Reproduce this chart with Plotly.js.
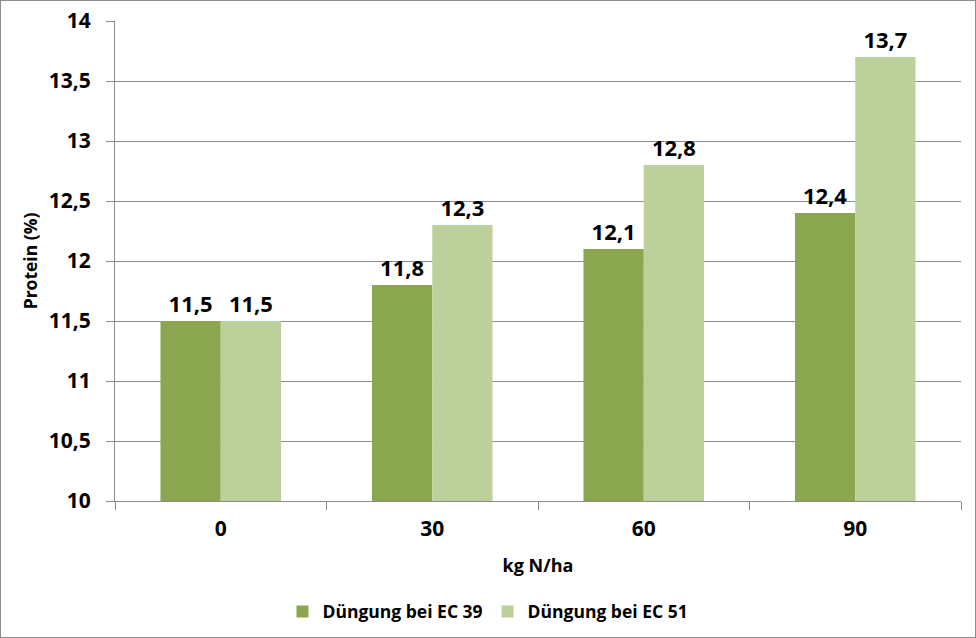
<!DOCTYPE html>
<html>
<head>
<meta charset="utf-8">
<script src="https://cdn.plot.ly/plotly-3.0.1.min.js"></script>
<style>
  html, body { margin: 0; padding: 0; background: #fff; }
  #chart { width: 974px; height: 636px; border: 1px solid #8c8c8c; }
</style>
</head>
<body>
<div id="chart"></div>
<script>
// Nitrogen rate categories (kg N/ha)
const categories = ['0', '30', '60', '90'];
// Protein content (%) per fertilisation timing
const seriesEC39 = [11.5, 11.8, 12.1, 12.4];
const seriesEC51 = [11.5, 12.3, 12.8, 13.7];
const seriesNames = ['Düngung bei EC 39', 'Düngung bei EC 51'];
const yTicks = [10, 10.5, 11, 11.5, 12, 12.5, 13, 13.5, 14];

const fontFamily = '"Open Sans", Lato, sans-serif';
const gridColor = '#8c8c8c';

const labelFont = { family: fontFamily, size: 22, color: '#000', weight: 700 };

const traces = [
  {
    type: 'bar', name: seriesNames[0], x: categories, y: seriesEC39,
    marker: { color: '#8aa74f' },
    texttemplate: '%{y:.1f}', textposition: 'outside',
    textfont: labelFont, cliponaxis: false
  },
  {
    type: 'bar', name: seriesNames[1], x: categories, y: seriesEC51,
    marker: { color: '#bbd09a' },
    texttemplate: '%{y:.1f}', textposition: 'outside',
    textfont: labelFont, cliponaxis: false
  }
];

const layout = {
  width: 974, height: 636,
  margin: { l: 114, r: 14, t: 20, b: 136 },
  paper_bgcolor: '#fff', plot_bgcolor: '#fff',
  separators: ', ',
  barmode: 'group', bargap: 0.43, bargroupgap: 0,
  font: { family: fontFamily, color: '#000', weight: 700 },
  showlegend: true,
  legend: {
    orientation: 'h', xref: 'container', yref: 'container',
    x: 0.5, xanchor: 'center', y: 0.04, yanchor: 'middle',
    font: { family: fontFamily, size: 17.5, color: '#000', weight: 700 },
    itemwidth: 30, tracegroupgap: 0
  },
  xaxis: {
    type: 'category',
    showline: true, linecolor: gridColor, linewidth: 1,
    ticks: 'outside', tickson: 'boundaries', ticklen: 8, tickcolor: gridColor,
    ticklabelstandoff: 9,
    tickfont: { family: fontFamily, size: 21, color: '#000', weight: 700 },
    title: { text: 'kg N/ha', font: { family: fontFamily, size: 18, color: '#000', weight: 700 }, standoff: 18 },
    showgrid: false, zeroline: false
  },
  yaxis: {
    range: [10, 14], tickvals: yTicks, tickformat: '.1~f',
    showline: true, linecolor: gridColor, linewidth: 1,
    ticks: 'outside', ticklen: 8, tickcolor: gridColor,
    ticklabelstandoff: 11,
    showgrid: true, gridcolor: gridColor, gridwidth: 1,
    zeroline: false,
    tickfont: { family: fontFamily, size: 21, color: '#000', weight: 700 },
    title: { text: 'Protein (%)', font: { family: fontFamily, size: 17.5, color: '#000', weight: 700 }, standoff: 6 }
  }
};

Plotly.newPlot('chart', traces, layout, { displayModeBar: false, staticPlot: true });
</script>
</body>
</html>
